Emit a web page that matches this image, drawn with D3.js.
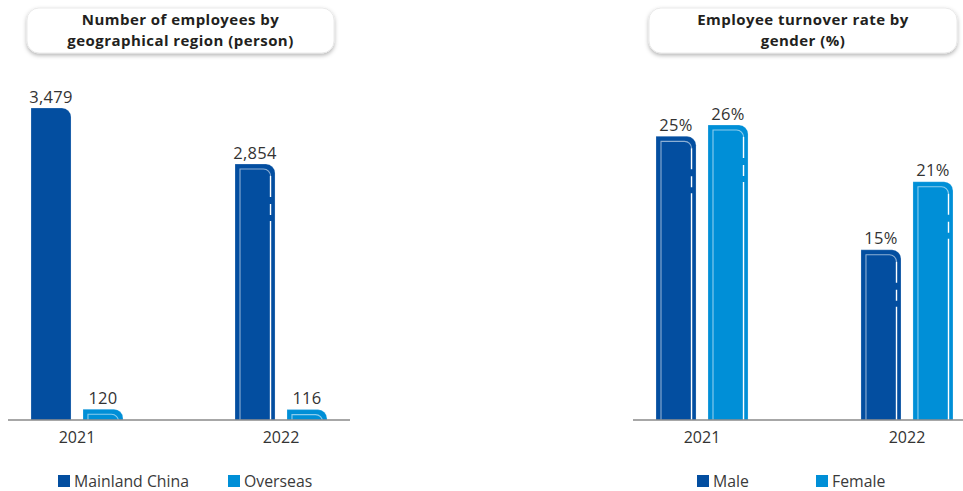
<!DOCTYPE html>
<html>
<head>
<meta charset="utf-8">
<script src="https://cdn.jsdelivr.net/npm/d3@7"></script>
<style>
  html, body { margin: 0; padding: 0; background: #fff; }
  svg { display: block; font-family: "Open Sans", "Noto Sans", sans-serif; }
</style>
</head>
<body>
<svg id="chart" width="963" height="491"></svg>
<script>
// ---- data ----
const years = ["2021", "2022"];

const regionSeries = ["Mainland China", "Overseas"];
const mainlandChina = [3479, 2854];
const overseas = [120, 116];

const genderSeries = ["Male", "Female"];
const maleRate = [25, 15];
const femaleRate = [26, 21];

const titleRegion = ["Number of employees by", "geographical region (person)"];
const titleGender = ["Employee turnover rate by", "gender (%)"];

// ---- styling ----
const darkBlue = "#034ea0";
const lightBlue = "#008fd7";
const textColor = "#333";

const svg = d3.select("#chart");

// soft drop shadow for title boxes
const defs = svg.append("defs");
const shadow = defs.append("filter").attr("id", "shadow")
  .attr("x", "-10%").attr("y", "-30%").attr("width", "120%").attr("height", "170%");
shadow.append("feDropShadow")
  .attr("dx", 0).attr("dy", 2).attr("stdDeviation", 2.2)
  .attr("flood-color", "#000").attr("flood-opacity", 0.3);

// bar outline with rounded top-right corner
function barPath(x0, w, yTop, yBase, r) {
  const h = yBase - yTop;
  const rr = Math.min(r, h, w);
  return `M${x0},${yBase}V${yTop}H${x0 + w - rr}` +
    `A${rr},${rr} 0 0 1 ${x0 + w},${yTop + rr}V${yBase}Z`;
}

let clipId = 0;

function drawChart(cfg) {
  const g = svg.append("g");

  // title box
  const tb = cfg.titleBox;
  g.append("rect")
    .attr("x", tb.x).attr("y", tb.y).attr("width", tb.w).attr("height", tb.h)
    .attr("rx", 12).attr("fill", "#fff")
    .attr("stroke", "#e4e4e4").attr("stroke-width", 0.8)
    .attr("filter", "url(#shadow)");
  g.append("text")
    .attr("x", tb.x + tb.w / 2).attr("y", tb.y + 17)
    .attr("text-anchor", "middle")
    .attr("font-size", 15).attr("font-weight", 700).attr("fill", "#231f20")
    .attr("letter-spacing", 0.45)
    .selectAll("tspan").data(cfg.title).join("tspan")
    .attr("x", tb.x + tb.w / 2)
    .attr("dy", (d, i) => i === 0 ? 0 : 20.6)
    .text(d => d);

  const x = d3.scaleBand().domain(years)
    .range(cfg.xRange).paddingInner(cfg.padInner).paddingOuter(cfg.padOuter);
  const xs = d3.scaleBand().domain(cfg.series)
    .range([0, x.bandwidth()]).paddingInner(0.23);
  const y = d3.scaleLinear().domain(cfg.yDomain).range([cfg.baseY, cfg.topY]);
  const color = d3.scaleOrdinal().domain(cfg.series).range([darkBlue, lightBlue]);

  const rows = [];
  years.forEach((yr, i) => {
    cfg.series.forEach((s, j) => {
      rows.push({ year: yr, series: s, value: cfg.values[j][i] });
    });
  });

  const bars = g.append("g").selectAll("g").data(rows).join("g");

  bars.each(function (d) {
    const sel = d3.select(this);
    const x0 = x(d.year) + xs(d.series);
    const w = xs.bandwidth();
    const yTop = y(d.value);
    const yBase = y(0);
    const path = barPath(x0, w, yTop, yBase, 9);

    sel.append("path").attr("d", path).attr("fill", color(d.series));
    // lighter side edges
    sel.append("path").attr("d", path).attr("fill", "none")
      .attr("stroke", "#fff").attr("stroke-opacity", 0.22).attr("stroke-width", 1);

    if (!cfg.plain.has(d.year + "|" + d.series)) {
      const id = "clip" + (clipId++);
      defs.append("clipPath").attr("id", id).append("path").attr("d", path);
      const inner = sel.append("g").attr("clip-path", `url(#${id})`);
      const il = x0 + 5, ir = x0 + w - 4.5, it = yTop + 5, ri = 7;
      // left and top inner line
      inner.append("path")
        .attr("d", `M${il},${yBase}V${it}H${ir - ri}A${ri},${ri} 0 0 1 ${ir},${it + ri}`)
        .attr("fill", "none").attr("stroke", "#fff")
        .attr("stroke-opacity", 0.55).attr("stroke-width", 1.1);
      // right inner line, broken near the top
      const segs = [[it + ri, yTop + 33], [yTop + 40, yTop + 51], [yTop + 57, yBase]];
      segs.forEach(([a, b]) => {
        if (b > a) {
          inner.append("line")
            .attr("x1", ir).attr("x2", ir).attr("y1", a).attr("y2", b)
            .attr("stroke", "#fff").attr("stroke-width", 1.4);
        }
      });
    }

    // value label
    sel.append("text")
      .attr("x", x0 + w / 2).attr("y", yTop - 5.5)
      .attr("text-anchor", "middle")
      .attr("font-size", 16.5).attr("letter-spacing", 0.3).attr("fill", textColor)
      .text(cfg.format(d.value));
  });

  // baseline
  g.append("line")
    .attr("x1", cfg.xRange[0]).attr("x2", cfg.xRange[1])
    .attr("y1", y(0)).attr("y2", y(0))
    .attr("stroke", "#8a8a8a").attr("stroke-width", 1.5);

  // year labels
  g.append("g").selectAll("text").data(years).join("text")
    .attr("x", d => x(d) + x.bandwidth() / 2)
    .attr("y", y(0) + 23)
    .attr("text-anchor", "middle")
    .attr("font-size", 16).attr("fill", textColor)
    .text(d => d);

  // legend
  const lg = g.append("g").selectAll("g").data(cfg.series).join("g")
    .attr("transform", (d, i) => `translate(${cfg.legendX[i]},475)`);
  lg.append("rect").attr("width", 12).attr("height", 12).attr("fill", d => color(d));
  lg.append("text").attr("x", 16).attr("y", 11.5)
    .attr("font-size", 15.8).attr("fill", "#3a3a3a").text(d => d);
}

drawChart({
  title: titleRegion,
  titleBox: { x: 27, y: 8, w: 307, h: 45 },
  series: regionSeries,
  values: [mainlandChina, overseas],
  xRange: [8, 350],
  padInner: 0.549, padOuter: 0.1127,
  yDomain: [0, 3479], baseY: 420, topY: 108,
  format: d3.format(","),
  plain: new Set(["2021|Mainland China"]),
  legendX: [58, 228]
});

drawChart({
  title: titleGender,
  titleBox: { x: 649, y: 8, w: 308, h: 45 },
  series: genderSeries,
  values: [maleRate, femaleRate],
  xRange: [633, 976],
  padInner: 0.551, padOuter: 0.1122,
  yDomain: [0, 26], baseY: 420, topY: 125,
  format: d => d + "%",
  plain: new Set(),
  legendX: [697, 816]
});
</script>
</body>
</html>
